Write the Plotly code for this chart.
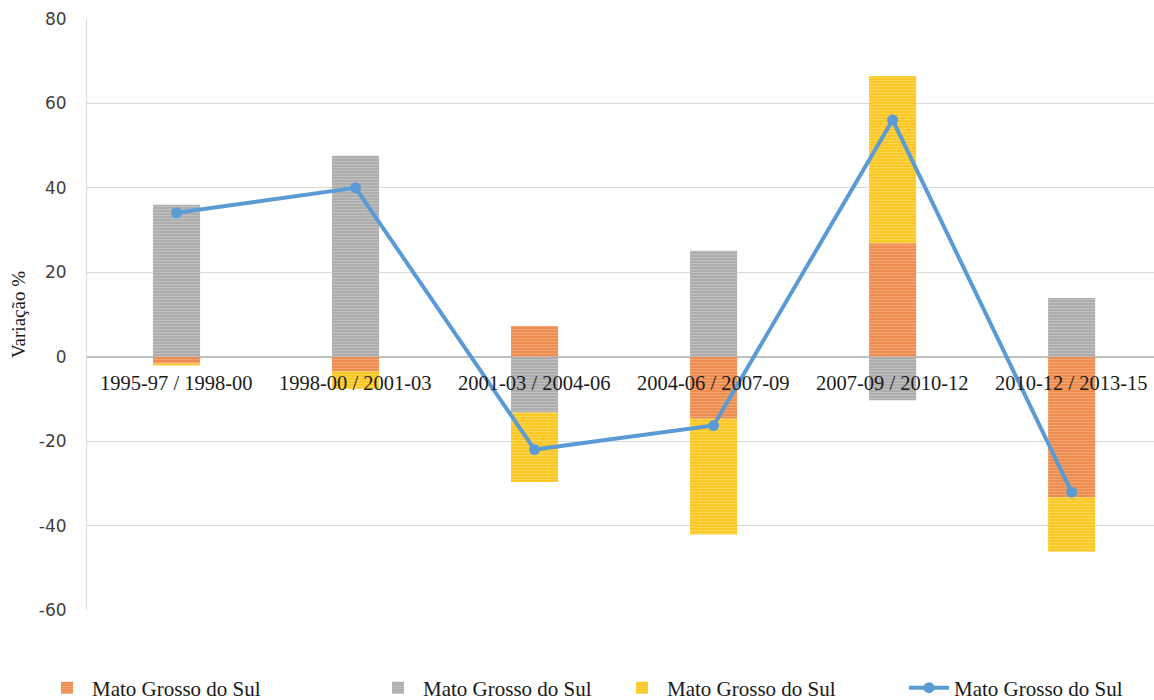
import plotly.graph_objects as go

categories = ["1995-97 / 1998-00", "1998-00 / 2001-03", "2001-03 / 2004-06",
              "2004-06 / 2007-09", "2007-09 / 2010-12", "2010-12 / 2013-15"]
orange_vals = [-1.6, -3.5, 7.3, -14.7, 26.9, -33.3]
gray_vals = [36.0, 47.6, -13.2, 25.1, -10.3, 13.9]
yellow_vals = [-0.5, -4.1, -16.5, -27.4, 39.6, -12.9]
line_vals = [34.1, 40.0, -22.0, -16.3, 56.1, -32.1]
series_name = "Mato Grosso do Sul"
y_ticks = [-60, -40, -20, 0, 20, 40, 60, 80]
y_ticktext = ["-60", "-40", "-20", "0", "20", "40", "60", "80"]

W, H = 1154, 700
fig = go.Figure()

bar_specs = [(orange_vals, "#EE8A4A", "legend"),
             (gray_vals, "#ABABAB", "legend2"),
             (yellow_vals, "#FCC61E", "legend3")]
for vals, col, lg in bar_specs:
    fig.add_trace(go.Bar(
        x=categories, y=vals, name=series_name, legend=lg,
        marker=dict(color=col, line=dict(width=0),
                    pattern=dict(shape="-", fillmode="overlay",
                                 fgcolor="rgba(255,255,255,0.5)",
                                 size=3, solidity=0.4)),
    ))

fig.add_trace(go.Scatter(
    x=categories, y=line_vals, name=series_name, legend="legend4",
    mode="lines+markers",
    line=dict(color="#5B9BD5", width=4),
    marker=dict(color="#5B9BD5", size=11, symbol="circle"),
))

for c in categories:
    fig.add_annotation(x=c, y=0, xref="x", yref="y", text=c, showarrow=False,
                       yanchor="middle", yshift=-26,
                       font=dict(family="Liberation Serif", size=20.5, color="#1a1a1a"))

leg_font = dict(family="Liberation Serif", size=21, color="#1a1a1a")
def leg(xc):
    return dict(x=xc, xref="container", y=1 - 688 / H, yref="container",
                xanchor="left", yanchor="middle", orientation="h",
                font=leg_font, bgcolor="rgba(0,0,0,0)", itemwidth=40)

fig.update_layout(
    width=W, height=H,
    barmode="relative", bargap=0.737,
    plot_bgcolor="white", paper_bgcolor="white",
    margin=dict(l=87, r=0, t=19, b=90),
    showlegend=True,
    legend=leg(42 / W), legend2=leg(373 / W), legend3=leg(617 / W), legend4=leg(904 / W),
    xaxis=dict(range=[-0.5, 5.46], showticklabels=False, showgrid=False,
               showline=False, zeroline=False, fixedrange=True),
    yaxis=dict(range=[-60, 80], tickvals=y_ticks, ticktext=y_ticktext,
               showgrid=True, gridcolor="#d9d9d9",
               gridwidth=1, zeroline=True, zerolinecolor="#bfbfbf", zerolinewidth=2,
               showline=True, linecolor="#d9d9d9", linewidth=1,
               ticklabelstandoff=16,
               tickfont=dict(family="DejaVu Sans", size=17, color="#404040"),
               title=dict(text="Variação %", standoff=8,
                          font=dict(family="Liberation Serif", size=19, color="#1a1a1a"))),
)

fig.write_html("out.html")
